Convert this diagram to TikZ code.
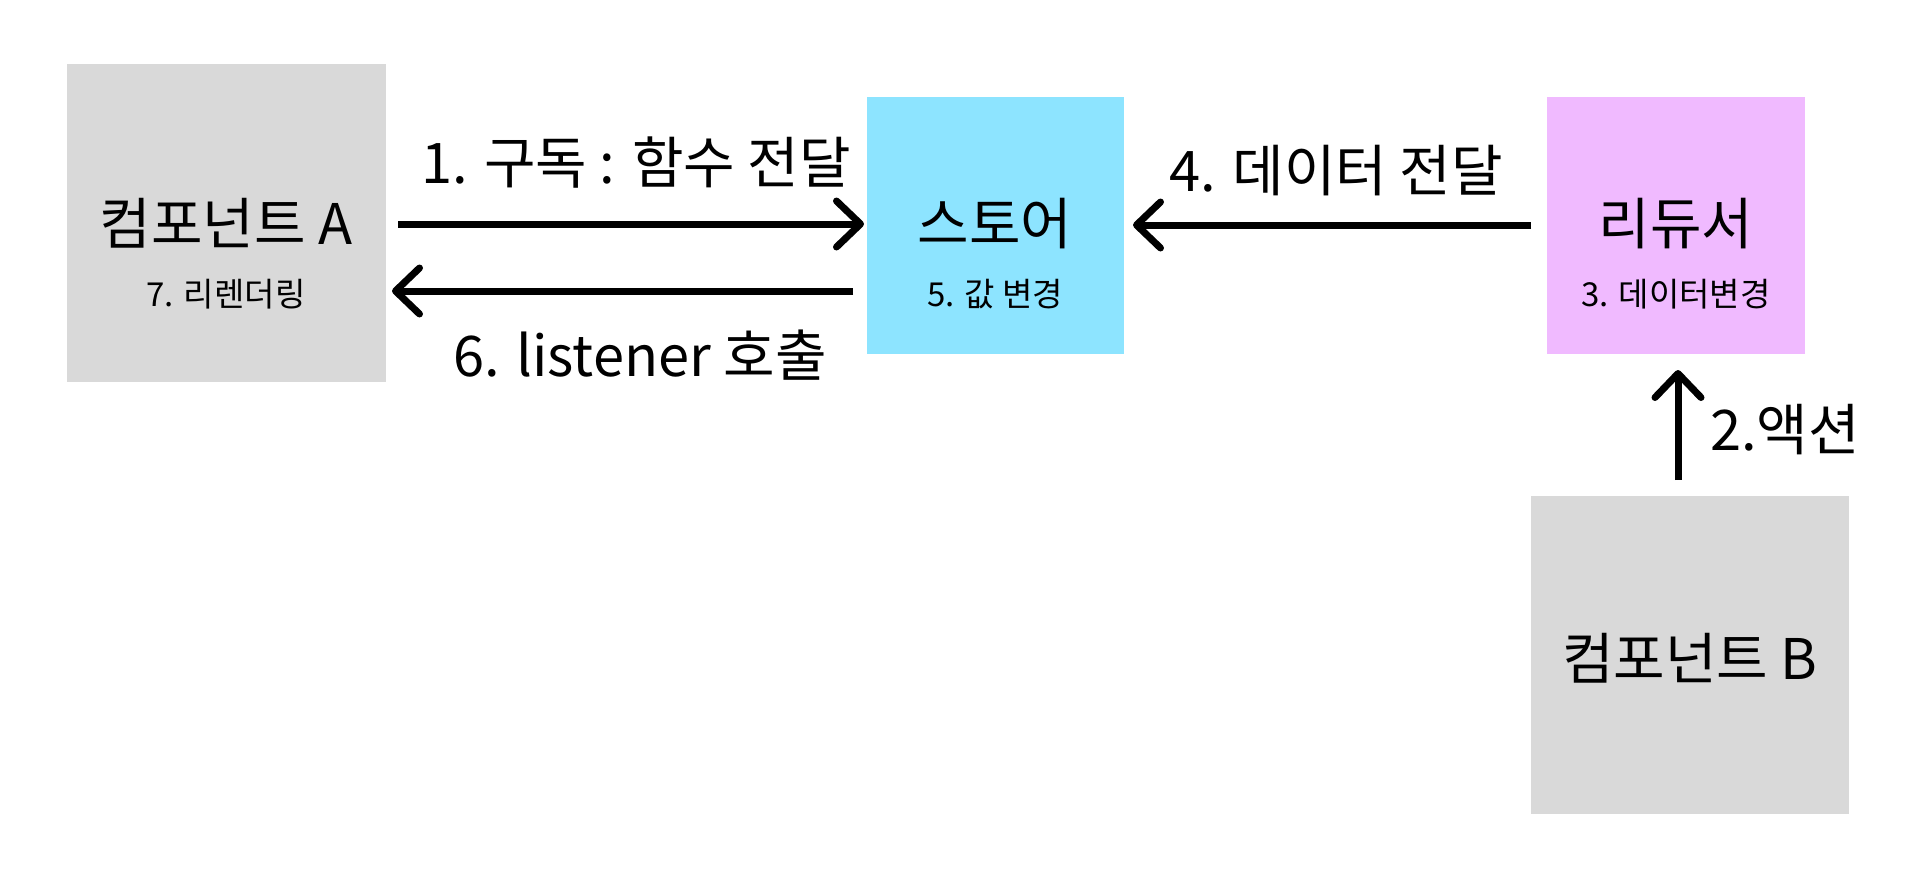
\documentclass[tikz,border=0pt]{standalone}
\usepackage{fontspec}
\setmainfont{Noto Sans CJK KR}
\usetikzlibrary{arrows.meta}
\definecolor{boxgray}{RGB}{217,217,217}
\definecolor{boxcyan}{RGB}{141,228,255}
\definecolor{boxpink}{RGB}{240,186,255}
\tikzset{
  bigtxt/.style={font=\fontsize{56}{60}\selectfont, inner sep=0pt},
  smalltxt/.style={font=\fontsize{33}{36}\selectfont, inner sep=0pt},
  lbltxt/.style={font=\fontsize{56}{60}\selectfont, inner sep=0pt},
  flow/.style={line width=7pt, -{Straight Barb[length=24pt, width=46pt, round]}},
}
\begin{document}
\begin{tikzpicture}[x=1pt, y=-1pt]
\useasboundingbox (0,0) rectangle (1920,887);
% boxes
\fill[boxgray] (67,64) rectangle (386,382);
\fill[boxcyan] (867,97) rectangle (1124,354);
\fill[boxpink] (1547,97) rectangle (1805,354);
\fill[boxgray] (1531,496) rectangle (1849,814);
% texts
\node[bigtxt] (ta) at (226,223) {컴포넌트 A};
\node[smalltxt] (sa) at (226,294) {7. 리렌더링};
\node[bigtxt] (ts) at (995,224) {스토어};
\node[smalltxt] (ss) at (995,294) {5. 값 변경};
\node[bigtxt] (tr) at (1676,224) {리듀서};
\node[smalltxt] (sr) at (1676,294) {3. 데이터변경};
\node[bigtxt] (tb) at (1690,658) {컴포넌트 B};
% anchors for connectors
\coordinate (a1s) at (398,224);
\coordinate (a1e) at (864,224);
\coordinate (a6s) at (853,291);
\coordinate (a6e) at (392,291);
\coordinate (a4s) at (1531,225);
\coordinate (a4e) at (1133,225);
\coordinate (a2s) at (1678,480);
\coordinate (a2e) at (1678,370);
\draw[flow] (a1s) -- (a1e);
\draw[flow] (a6s) -- (a6e);
\draw[flow] (a4s) -- (a4e);
\draw[flow] (a2s) -- (a2e);
% labels
\node[lbltxt] (l1) at (636,163) {1. 구독 : 함수 전달};
\node[lbltxt] (l6) at (640,355) {6. listener 호출};
\node[lbltxt] (l4) at (1336,171) {4. 데이터 전달};
\node[lbltxt] (l2) at (1785,430) {2.액션};
\end{tikzpicture}
\end{document}
